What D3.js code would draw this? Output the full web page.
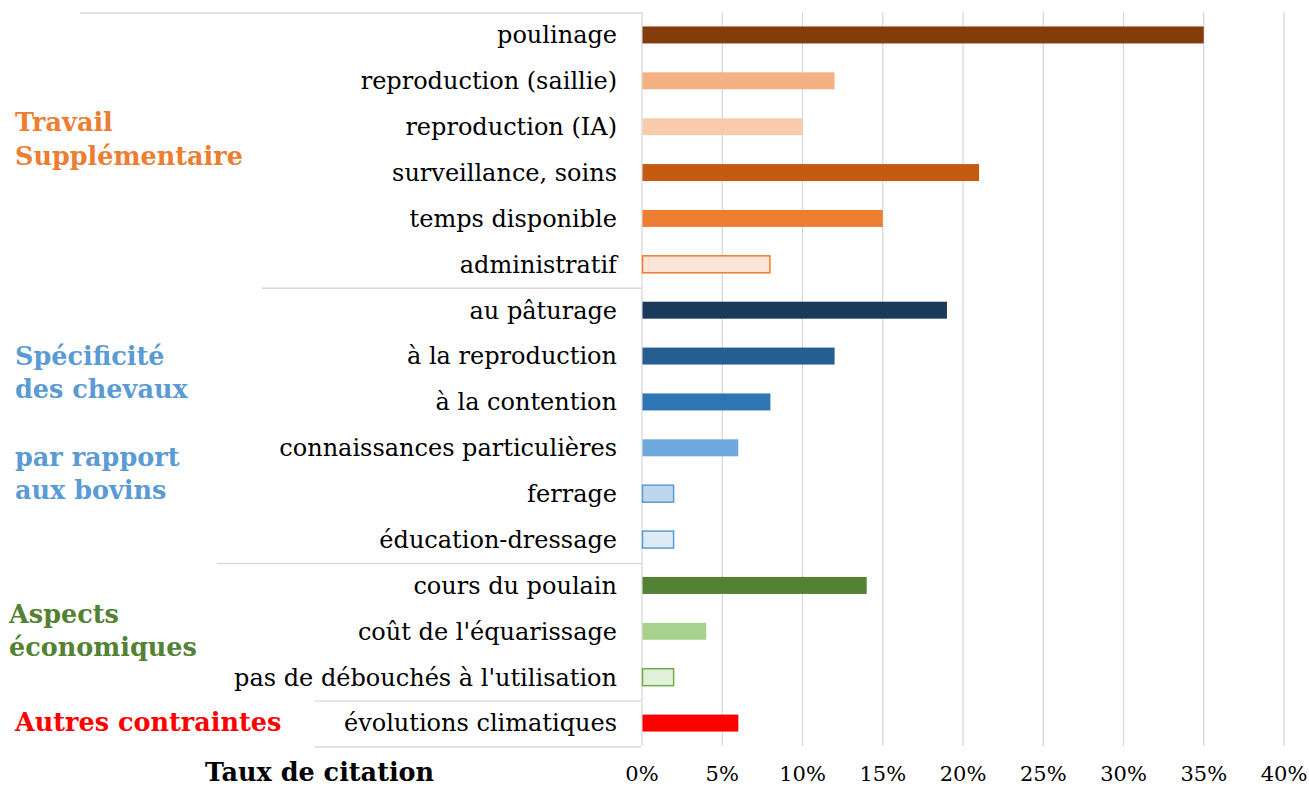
<!DOCTYPE html>
<html><head><meta charset="utf-8">
<script src="https://cdn.jsdelivr.net/npm/d3@7"></script>
<style>body{margin:0;background:#fff}svg{display:block}</style>
</head><body><svg id="c" width="1309" height="787"></svg>
<script>
const categories = ["poulinage","reproduction (saillie)","reproduction (IA)","surveillance, soins","temps disponible","administratif","au pâturage","à la reproduction","à la contention","connaissances particulières","ferrage","éducation-dressage","cours du poulain","coût de l'équarissage","pas de débouchés à l'utilisation","évolutions climatiques"];
const values = [35,12,10,21,15,8,19,12,8,6,2,2,14,4,2,6];
const fills = ["#843C0C","#F4B183","#F8CBAD","#C55A11","#ED7D31","#FBE5D6","#1A3A5C","#255E91","#2E75B6","#6FA8DC","#BDD7EE","#DEEBF7","#548235","#A9D18E","#E2F0D9","#FF0000"];
const strokes = [null,null,null,null,null,"#ED7D31",null,null,null,null,"#5B9BD5","#5B9BD5",null,null,"#70AD47",null];
const ticks = [0,5,10,15,20,25,30,35,40];
const groups = [
  {lines:["Travail","Supplémentaire"], color:"#ED7D31", x:15, y:[131,165]},
  {lines:["Spécificité","des chevaux"], color:"#5B9BD5", x:15, y:[365,398]},
  {lines:["par rapport","aux bovins"], color:"#5B9BD5", x:15, y:[466,499]},
  {lines:["Aspects","économiques"], color:"#548235", x:9, y:[623,656]},
  {lines:["Autres contraintes"], color:"#FF0000", x:15, y:[731]}
];
const separators = [{after:-1, x0:80},{after:5, x0:262},{after:11, x0:217},{after:14, x0:315},{after:15, x0:315}];

const font = "'DejaVu Serif', Georgia, serif";
const svg = d3.select("#c");
const pLeft = 642, pRight = 1284, pTop = 12, pBottom = 746;
const x = d3.scaleLinear().domain([0,40]).range([pLeft,pRight]);
const y = d3.scaleBand().domain(categories).range([pTop,pBottom]).paddingInner(0.63).paddingOuter(0.315);

svg.append("g").selectAll("line").data(ticks).join("line")
  .attr("x1",d=>x(d)).attr("x2",d=>x(d)).attr("y1",pTop).attr("y2",pBottom)
  .attr("stroke","#d9d9d9").attr("stroke-width",1.3);

const step = y.step();
svg.append("g").selectAll("line").data(separators).join("line")
  .attr("x1",d=>d.x0).attr("x2",pLeft-1)
  .attr("y1",d=>pTop + step*(d.after+1)+1).attr("y2",d=>pTop + step*(d.after+1)+1)
  .attr("stroke","#d9d9d9").attr("stroke-width",1.3);

svg.append("g").selectAll("rect").data(categories).join("rect")
  .attr("x",x(0)+0.5)
  .attr("y",d=>y(d))
  .attr("width",(d,i)=>x(values[i])-x(0)-(strokes[i]?1:0.5))
  .attr("height",y.bandwidth())
  .attr("fill",(d,i)=>fills[i])
  .attr("stroke",(d,i)=>strokes[i]||"none")
  .attr("stroke-width",1.5);

svg.append("g").selectAll("text").data(categories).join("text")
  .attr("x",pLeft-25).attr("y",d=>y(d)+y.bandwidth()/2)
  .attr("dy","0.35em").attr("text-anchor","end")
  .style("font-family",font).style("font-size","24px").attr("fill","#000")
  .text(d=>d);

svg.append("g").selectAll("text").data(ticks).join("text")
  .attr("x",d=>x(d)).attr("y",781).attr("text-anchor","middle")
  .style("font-family",font).style("font-size","21px").attr("fill","#000")
  .text(d=>d+"%");

groups.forEach(g=>{
  g.lines.forEach((l,i)=>{
    svg.append("text").attr("x",g.x).attr("y",g.y[i])
      .style("font-family",font).style("font-weight","bold").style("font-size","25.5px")
      .attr("fill",g.color).text(l);
  });
});

svg.append("text").attr("x",205).attr("y",781)
  .style("font-family",font).style("font-weight","bold").style("font-size","25.5px")
  .attr("fill","#000").text("Taux de citation");
</script></body></html>
